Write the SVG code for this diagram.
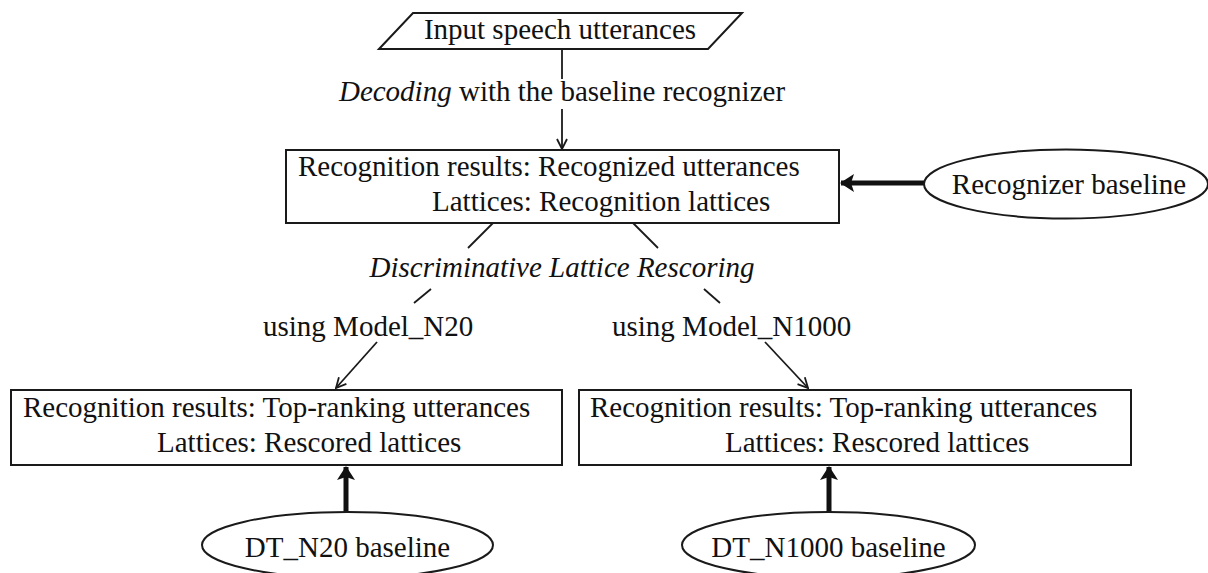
<svg xmlns="http://www.w3.org/2000/svg" width="1208" height="573" viewBox="0 0 1208 573">
  <style>
    .box { fill: #ffffff; stroke: #1a1a1a; stroke-width: 2; }
    .line { fill: none; stroke: #1a1a1a; stroke-width: 1.8; }
    .thick { fill: none; stroke: #111111; stroke-width: 5; }
    .lbl { font-family: "Liberation Serif", "Times New Roman", serif; font-size: 29px; fill: #111111; }
    .it { font-style: italic; }
    .mid { text-anchor: middle; }
  </style>
  <defs>
    <marker id="open" viewBox="0 0 12 12" refX="11" refY="6" markerWidth="12" markerHeight="12" markerUnits="userSpaceOnUse" orient="auto">
      <path d="M1,1 L11,6 L1,11" fill="none" stroke="#1a1a1a" stroke-width="1.8"/>
    </marker>
    <marker id="solid" viewBox="0 0 14 20" refX="13" refY="10" markerWidth="14" markerHeight="20" markerUnits="userSpaceOnUse" orient="auto">
      <path d="M0,1 L14,10 L0,19 L3,10 Z" fill="#111111"/>
    </marker>
  </defs>

  <rect width="1208" height="573" fill="#ffffff"/>

  <g id="connectors">
    <!-- decoding step -->
    <line class="line" x1="562" y1="49" x2="562" y2="79"/>
    <line class="line" x1="562" y1="109" x2="562" y2="149" marker-end="url(#open)"/>
    <!-- rescoring split -->
    <line class="line" x1="493" y1="223" x2="468" y2="248"/>
    <line class="line" x1="633" y1="223" x2="658" y2="248"/>
    <line class="line" x1="431" y1="289" x2="414" y2="303"/>
    <line class="line" x1="704" y1="289" x2="720" y2="303"/>
    <line class="line" x1="377" y1="342" x2="336" y2="388" marker-end="url(#open)"/>
    <line class="line" x1="765" y1="342" x2="808" y2="388" marker-end="url(#open)"/>
    <!-- baselines feeding results -->
    <line class="thick" x1="925" y1="183" x2="841" y2="183" marker-end="url(#solid)"/>
    <line class="thick" x1="346" y1="512" x2="346" y2="467" marker-end="url(#solid)"/>
    <line class="thick" x1="829" y1="512" x2="829" y2="467" marker-end="url(#solid)"/>
  </g>

  <g id="input">
    <polygon class="box" points="379,49 413,13 742,13 708,49"/>
    <text class="lbl mid" x="560" y="39">Input speech utterances</text>
  </g>

  <g id="decoding-label">
    <text class="lbl mid" x="562" y="101"><tspan class="it">Decoding</tspan> with the baseline recognizer</text>
  </g>

  <g id="recognition">
    <rect class="box" x="286" y="150" width="553" height="73"/>
    <text class="lbl" x="298" y="176">Recognition results: Recognized utterances</text>
    <text class="lbl" x="432" y="211">Lattices: Recognition lattices</text>
  </g>

  <g id="recognizer-baseline">
    <ellipse class="box" cx="1066" cy="184" rx="142" ry="34.5"/>
    <text class="lbl mid" x="1069" y="194">Recognizer baseline</text>
  </g>

  <g id="rescoring-label">
    <text class="lbl it mid" x="562" y="277">Discriminative Lattice Rescoring</text>
  </g>

  <g id="model-labels">
    <text class="lbl" x="263" y="336">using Model_N20</text>
    <text class="lbl" x="612" y="336">using Model_N1000</text>
  </g>

  <g id="rescored-n20">
    <rect class="box" x="11" y="390" width="551" height="75"/>
    <text class="lbl" x="23" y="417">Recognition results: Top-ranking utterances</text>
    <text class="lbl" x="157" y="452">Lattices: Rescored lattices</text>
  </g>

  <g id="rescored-n1000">
    <rect class="box" x="579" y="390" width="552" height="75"/>
    <text class="lbl" x="590" y="417">Recognition results: Top-ranking utterances</text>
    <text class="lbl" x="725" y="452">Lattices: Rescored lattices</text>
  </g>

  <g id="dt-n20-baseline">
    <ellipse class="box" cx="347.5" cy="545" rx="145.5" ry="33"/>
    <text class="lbl mid" x="347.5" y="557">DT_N20 baseline</text>
  </g>

  <g id="dt-n1000-baseline">
    <ellipse class="box" cx="828.5" cy="545" rx="146.5" ry="33"/>
    <text class="lbl mid" x="828.5" y="557">DT_N1000 baseline</text>
  </g>
</svg>
